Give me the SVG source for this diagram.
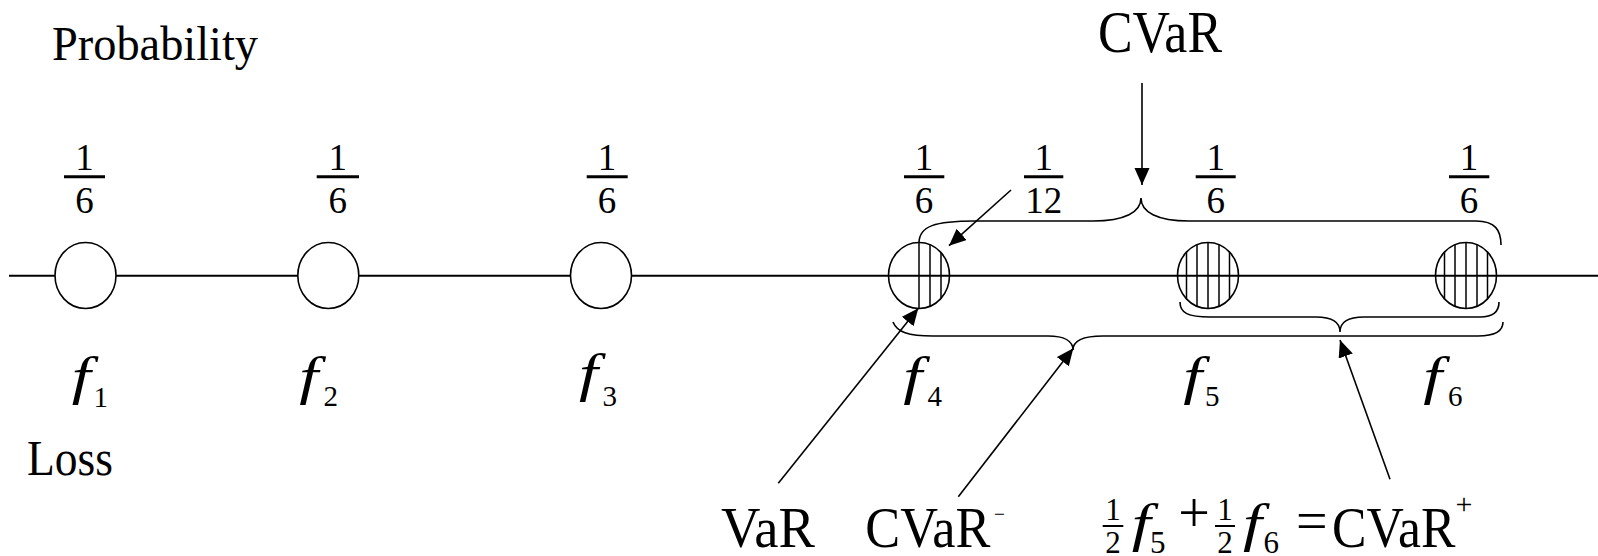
<svg xmlns="http://www.w3.org/2000/svg" width="1598" height="556" viewBox="0 0 1598 556">
<style>
.lbl{font-size:58px}
.dig{font-size:37px;text-anchor:middle}
.fi{font-size:52.5px;font-style:italic}
.sub{font-size:29px}
.bar{stroke:#000;stroke-width:3}
.ax{stroke:#000;stroke-width:2;fill:none}
.pt{stroke:#000;stroke-width:1.6;fill:#fff}
.hp{stroke:#000;stroke-width:1.6;fill:none}
.h{stroke:#000;stroke-width:1.5}
.br{stroke:#000;stroke-width:1.6;fill:none}
.ar{stroke:#000;stroke-width:1.6;fill:none;marker-end:url(#ah)}
</style>
<defs>
<marker id="ah" markerUnits="userSpaceOnUse" markerWidth="18" markerHeight="16" refX="17" refY="7.5" orient="auto">
<path d="M0,0 L17,7.5 L0,15 Z" fill="#000"/>
</marker>
</defs>
<rect width="1598" height="556" fill="#fff"/>
<g font-family="Liberation Serif" fill="#000">
<text id="t-prob" x="52" y="60" font-size="48" textLength="206" lengthAdjust="spacingAndGlyphs">Probability</text>
<text id="t-loss" x="27" y="475" font-size="50" textLength="86" lengthAdjust="spacingAndGlyphs">Loss</text>
<line id="axis" class="ax" x1="9" y1="275.7" x2="1598" y2="275.7"/>
<g id="f1">
<ellipse class="pt" cx="85.5" cy="275.5" rx="30.5" ry="33"/>
<text class="dig" x="84.5" y="170">1</text><line class="bar" x1="64" y1="176.7" x2="105" y2="176.7"/><text class="dig" x="84.5" y="213">6</text>
<text class="fi" transform="translate(71.7 394) scale(1.3 1)">f</text><text class="sub" x="93.5" y="406.5">1</text>
</g>
<g id="f2">
<ellipse class="pt" cx="328.3" cy="275.5" rx="30.5" ry="33"/>
<text class="dig" x="337.8" y="170">1</text><line class="bar" x1="316.7" y1="176.7" x2="359" y2="176.7"/><text class="dig" x="337.8" y="213">6</text>
<text class="fi" transform="translate(299.3 394) scale(1.3 1)">f</text><text class="sub" x="323.5" y="406">2</text>
</g>
<g id="f3">
<ellipse class="pt" cx="601" cy="275.5" rx="30.5" ry="33"/>
<text class="dig" x="607" y="170">1</text><line class="bar" x1="586.7" y1="176.7" x2="627.7" y2="176.7"/><text class="dig" x="607" y="213">6</text>
<text class="fi" transform="translate(579 391) scale(1.3 1)">f</text><text class="sub" x="602.5" y="405.5">3</text>
</g>
<g id="f4">
<ellipse class="hp" cx="919" cy="275.5" rx="30.5" ry="33"/>
<line class="h" x1="919" y1="242.5" x2="919" y2="308.5"/>
<line class="h" x1="930" y1="244.7" x2="930" y2="306.3"/>
<line class="h" x1="941" y1="252.6" x2="941" y2="298.4"/>
<text class="dig" x="924" y="170">1</text><line class="bar" x1="904" y1="176.7" x2="944.3" y2="176.7"/><text class="dig" x="924" y="213">6</text>
<text class="fi" transform="translate(903.3 394) scale(1.3 1)">f</text><text class="sub" x="927.5" y="406">4</text>
</g>
<g id="w12">
<text class="dig" x="1043.7" y="170">1</text><line class="bar" x1="1024" y1="176.7" x2="1063.3" y2="176.7"/><text class="dig" x="1043.7" y="213">12</text>
</g>
<g id="f5">
<ellipse class="hp" cx="1208" cy="275.5" rx="30.5" ry="33"/>
<line class="h" x1="1186.5" y1="252.1" x2="1186.5" y2="298.9"/>
<line class="h" x1="1197" y1="244.7" x2="1197" y2="306.3"/>
<line class="h" x1="1208" y1="242.5" x2="1208" y2="308.5"/>
<line class="h" x1="1219" y1="244.7" x2="1219" y2="306.3"/>
<line class="h" x1="1229.5" y1="252.1" x2="1229.5" y2="298.9"/>
<text class="dig" x="1215.7" y="170">1</text><line class="bar" x1="1195.7" y1="176.7" x2="1235.7" y2="176.7"/><text class="dig" x="1215.7" y="213">6</text>
<text class="fi" transform="translate(1183.3 394) scale(1.3 1)">f</text><text class="sub" x="1205" y="406">5</text>
</g>
<g id="f6">
<ellipse class="hp" cx="1466" cy="275.5" rx="30.5" ry="33"/>
<line class="h" x1="1444.5" y1="252.1" x2="1444.5" y2="298.9"/>
<line class="h" x1="1455" y1="244.7" x2="1455" y2="306.3"/>
<line class="h" x1="1466" y1="242.5" x2="1466" y2="308.5"/>
<line class="h" x1="1477" y1="244.7" x2="1477" y2="306.3"/>
<line class="h" x1="1487.5" y1="252.1" x2="1487.5" y2="298.9"/>
<text class="dig" x="1469" y="170">1</text><line class="bar" x1="1449" y1="176.7" x2="1489.3" y2="176.7"/><text class="dig" x="1469" y="213">6</text>
<text class="fi" transform="translate(1423.3 394) scale(1.3 1)">f</text><text class="sub" x="1448" y="406">6</text>
</g>
<g id="t-cvar">
<text x="1098" y="51.7" font-size="60" textLength="124" lengthAdjust="spacingAndGlyphs">CVaR</text>
</g>
<g id="t-var">
<text class="lbl" x="721" y="546.7" textLength="94" lengthAdjust="spacingAndGlyphs">VaR</text>
</g>
<g id="t-cvarminus">
<text class="lbl" x="865.3" y="546.7" textLength="125" lengthAdjust="spacingAndGlyphs">CVaR</text>
<text x="994" y="522" font-size="24" textLength="11" lengthAdjust="spacingAndGlyphs">−</text>
</g>
<g id="t-cvarplus">
<text font-size="31" text-anchor="middle" x="1113" y="520">1</text><line stroke="#000" stroke-width="2" x1="1102.7" y1="526" x2="1123.3" y2="526"/><text font-size="31" text-anchor="middle" x="1113" y="553">2</text>
<text class="fi" font-size="53" transform="translate(1131.7 540.6) scale(1.3 1)">f</text><text font-size="31" x="1150" y="553.3">5</text>
<text font-size="56" text-anchor="middle" x="1194" y="532.3">+</text>
<text font-size="31" text-anchor="middle" x="1225" y="520">1</text><line stroke="#000" stroke-width="2" x1="1215" y1="526" x2="1235" y2="526"/><text font-size="31" text-anchor="middle" x="1225" y="553">2</text>
<text class="fi" transform="translate(1243 540.6) scale(1.3 1)">f</text><text font-size="31" x="1263.5" y="553">6</text>
<text font-size="56" text-anchor="middle" x="1311.7" y="540">=</text>
<text class="lbl" x="1332" y="546.7" textLength="123.4" lengthAdjust="spacingAndGlyphs">CVaR</text>
<text font-size="30" text-anchor="middle" x="1464" y="514">+</text>
</g>
</g>
<g id="connectors">
<path class="br" d="M919 243 C919 226 935 221 975 221 L1093 221 C1125 221 1141 212 1141 198 C1141 212 1157 221 1189 221 L1476 221 C1495 221 1501 230 1501 245"/>
<path class="br" d="M1180 302 C1180 313 1188 317 1210 317 L1316 317 C1332 317 1340 322 1340 332 C1340 322 1348 317 1364 317 L1480 317 C1495 317 1499 310 1499 302"/>
<path class="br" d="M893 322 C897 332 908 336 933 336 L1048 336 C1064 336 1073 341 1073 350 C1073 341 1082 336 1103 336 L1478 336 C1496 336 1503 330 1503 322"/>
<line class="ar" x1="1142" y1="83" x2="1142" y2="185"/>
<line class="ar" x1="1011" y1="190" x2="949" y2="245.7"/>
<line class="ar" x1="778.3" y1="483.3" x2="918.3" y2="308.3"/>
<line class="ar" x1="958.3" y1="496.7" x2="1073.3" y2="348.3"/>
<line class="ar" x1="1390" y1="479.3" x2="1340" y2="340"/>
</g>
</svg>
